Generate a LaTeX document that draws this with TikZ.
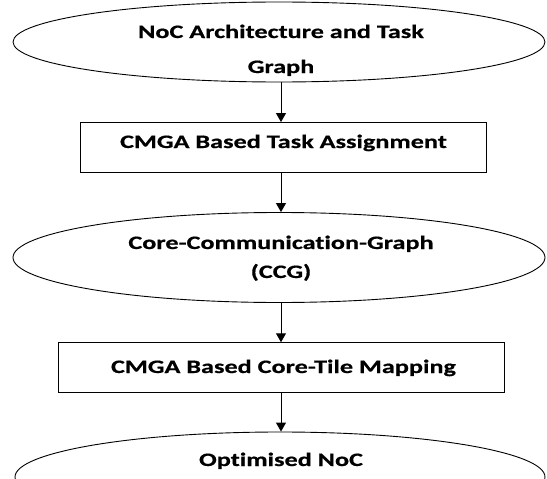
\documentclass[tikz,border=0pt]{standalone}
\usepackage{fontspec}
\setmainfont{Carlito}[FakeStretch=1.38, RawFeature=-liga, BoldFeatures={FakeBold=0.6}]
\usetikzlibrary{shapes.geometric,arrows.meta}
\begin{document}
\begin{tikzpicture}[x=1pt,y=-1pt,
  oval/.style={draw, ellipse, line width=0.9pt, inner sep=0pt},
  boxnode/.style={draw, rectangle, line width=0.9pt, inner sep=0pt},
  txt/.style={align=center, inner sep=0pt, anchor=base, font=\bfseries\fontsize{19}{35}\selectfont},
  flow/.style={line width=1pt, -{Triangle[length=9pt,width=10pt]}}]
\useasboundingbox (0,0) rectangle (547,479);
\clip (0,0) rectangle (547,479);
\node[oval, minimum width=532pt, minimum height=80pt] (e1) at (279,42) {};
\node[txt] (t1) at (281,73) {NoC Architecture and Task\\Graph};
\node[boxnode, minimum width=406pt, minimum height=50pt] (r1) at (283,147.5) {};
\node[txt] (t2) at (283.5,148) {CMGA Based Task Assignment};
\node[oval, minimum width=532pt, minimum height=90pt] (e2) at (279,257.5) {};
\node[txt, font=\bfseries\fontsize{19}{29}\selectfont] (t3) at (281,278) {Core-Communication-Graph\\(CCG)};
\node[boxnode, minimum width=446pt, minimum height=50pt] (r2) at (281,367.7) {};
\node[txt] (t4) at (283.5,373) {CMGA Based Core-Tile Mapping};
\node[oval, minimum width=530pt, minimum height=90pt] (e3) at (280,477) {};
\node[txt] (t5) at (281,466) {Optimised NoC};
\draw[flow] (e1.south -| 281,0) -- (r1.north -| 281,0);
\draw[flow] (r1.south -| 281,0) -- (e2.north -| 281,0);
\draw[flow] (e2.south -| 281,0) -- (r2.north -| 281,0);
\draw[flow] (r2.south -| 281,0) -- (e3.north -| 281,0);
\end{tikzpicture}
\end{document}
